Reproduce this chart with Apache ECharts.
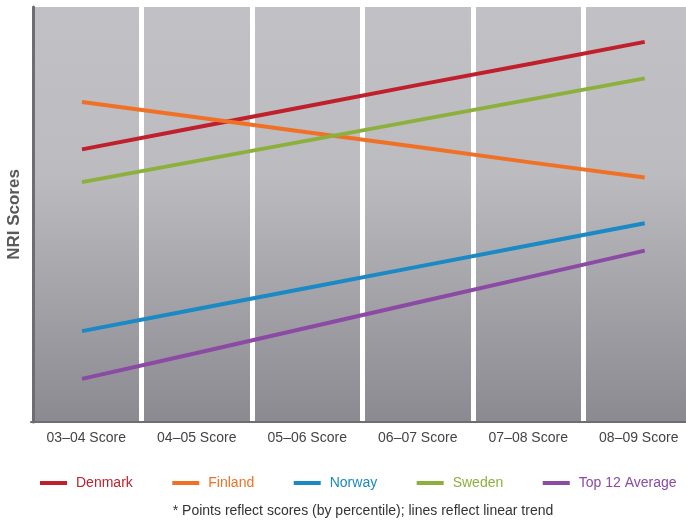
<!DOCTYPE html>
<html>
<head>
<meta charset="utf-8">
<script src="https://cdn.jsdelivr.net/npm/echarts@6/dist/echarts.min.js"></script>
<style>
html,body{margin:0;padding:0;background:#fff;}
#chart{width:686px;height:521px;}
</style>
</head>
<body>
<div id="chart"></div>
<script>
const categories = ['03\u201304 Score','04\u201305 Score','05\u201306 Score','06\u201307 Score','07\u201308 Score','08\u201309 Score'];
const denmark = [65.7, 70.9, 76.1, 81.3, 86.4, 91.6];
const finland = [77.1, 73.5, 69.8, 66.2, 62.5, 58.9];
const norway  = [21.9, 27.1, 32.3, 37.5, 42.7, 47.9];
const sweden  = [57.8, 62.8, 67.8, 72.8, 77.8, 82.8];
const top12   = [10.4, 16.5, 22.7, 28.9, 35.1, 41.3];
const seriesNames = ['Denmark','Finland','Norway','Sweden','Top 12 Average'];
const seriesColors = ['#c0202b','#f07125','#1a89c4','#8db03d','#8b4aa3'];
const seriesValues = [denmark, finland, norway, sweden, top12];

const chart = echarts.init(document.getElementById('chart'));
const FONT = '"Liberation Sans", Arial, Helvetica, sans-serif';

chart.setOption({
  animation: false,
  textStyle: {fontFamily: FONT},
  grid: {
    left: 31, right: -8, top: 7, bottom: 99,
    outerBoundsMode: 'none',
    containLabel: false,
    show: true, borderWidth: 0,
    backgroundColor: new echarts.graphic.LinearGradient(0,0,0,1,[
      {offset:0, color:'#c1c0c5'},
      {offset:0.4, color:'#bcbbc0'},
      {offset:1, color:'#8b8a90'}
    ])
  },
  xAxis: [{
    type: 'category',
    data: categories,
    boundaryGap: true,
    axisLine: {show: true, lineStyle: {color: '#6e6d73', width: 2}},
    axisTick: {show: false},
    axisLabel: {color: '#444', fontSize: 14, margin: 9, fontFamily: FONT},
    splitLine: {show: true, lineStyle: {color: '#ffffff', width: 5}}
  },{
    type: 'value',
    min: -0.453, max: 5.438,
    show: false,
    splitLine: {show: false}
  }],
  yAxis: {
    type: 'value',
    min: 0, max: 100,
    offset: -2,
    axisLine: {show: true, onZero: false, lineStyle: {color: '#6e6d73', width: 3}},
    axisTick: {show: false},
    axisLabel: {show: false},
    splitLine: {show: false},
    name: 'NRI Scores',
    nameLocation: 'middle',
    nameGap: 10,
    nameTextStyle: {color: '#58595b', fontSize: 17, fontWeight: 'bold', fontFamily: FONT}
  },
  legend: {
    left: 40, top: 476,
    padding: 0,
    icon: 'rect',
    itemWidth: 27, itemHeight: 4,
    itemGap: 39.5,
    data: seriesNames.map((n,i)=>({name:n, textStyle:{color:seriesColors[i]}})),
    textStyle: {fontSize: 14, fontFamily: FONT, padding: [0,0,0,4]}
  },
  graphic: [{
    type: 'text',
    x: 363,
    y: 504,
    style: {
      text: '* Points reflect scores (by percentile); lines reflect linear trend',
      fill: '#333',
      fontSize: 14,
      fontFamily: FONT,
      textAlign: 'center'
    }
  }],
  series: seriesNames.map((n,i)=>({
    name: n,
    type: 'line',
    xAxisIndex: 1,
    data: seriesValues[i].map((v,j)=>[j, v]),
    showSymbol: false,
    symbol: 'none',
    lineStyle: {color: seriesColors[i], width: 4},
    itemStyle: {color: seriesColors[i]}
  }))
});
</script>
</body>
</html>
